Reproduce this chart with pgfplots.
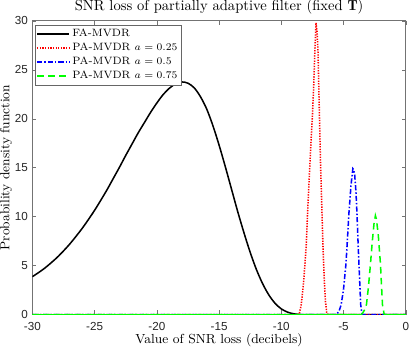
\documentclass[border=0pt]{standalone}
\usepackage{fontspec}
\usepackage{pgfplots}
\pgfplotsset{compat=1.18}
\newfontfamily\ticksans{Liberation Sans}

\begin{document}
\begin{tikzpicture}
\begin{axis}[
  scale only axis,
  width=256pt, height=201.5pt,
  xmin=-30, xmax=0, ymin=0, ymax=30,
  xtick={-30,-25,...,0}, ytick={0,5,...,30},
  title={SNR loss of partially adaptive filter (fixed $\mathbf{T}$)},
  title style={font=\fontsize{10}{12}\selectfont, at={(axis description cs:0.5,1.0035)}, anchor=base, yshift=0pt, inner sep=0pt},
  xlabel={Value of SNR loss (decibels)},
  ylabel={Probability density function},
  label style={font=\fontsize{9}{11}\selectfont, inner sep=0pt},
  xlabel style={at={(axis description cs:0.5,-0.099)}, anchor=base},
  ylabel style={at={(axis description cs:-0.062,0.5)}, anchor=base},
  /pgf/number format/assume math mode=true,
  ticklabel style={font=\ticksans\fontsize{8}{9.5}\selectfont, text=black!85},
  xticklabel style={inner xsep=0pt, yshift=-2pt},
  yticklabel style={xshift=0.5pt},
  axis line style={black!55, line width=0.5pt},
  tick style={black!55},
  major tick length=2.8pt,
  legend cell align=left,
  legend style={at={(0.006,0.985)}, anchor=north west, draw=black!60,
    font=\fontsize{7.3}{8.5}\selectfont, row sep=-0.3pt, inner sep=1pt,
    nodes={inner sep=1.6pt}},
  legend image code/.code={\draw[#1] (0pt,0pt) -- (22pt,0pt);},
]
\addplot[black, line width=1.05pt, smooth] coordinates {
(-30,3.87) (-29.5,4.29) (-29,4.75) (-28.5,5.28) (-28,5.85) (-27.5,6.5)
(-27,7.2) (-26.5,7.98) (-26,8.8) (-25.5,9.7) (-25,10.65) (-24.5,11.68)
(-24,12.75) (-23.5,13.9) (-23,15.05) (-22.5,16.25) (-22,17.4) (-21.5,18.55)
(-21,19.6) (-20.5,20.65) (-20,21.6) (-19.5,22.45) (-19,23.1) (-18.5,23.55)
(-18,23.75) (-17.5,23.62) (-17,23.15) (-16.5,22.25) (-16,21.0) (-15.5,19.3)
(-15,17.3) (-14.5,15.1) (-14,12.8) (-13.5,10.5) (-13,8.35) (-12.5,6.35)
(-12,4.6) (-11.5,3.15) (-11,2.0) (-10.5,1.15) (-10,0.58) (-9.5,0.25)
(-9,0.08) (-8.5,0.01) (-8,0) (0,0)
};
\addlegendentry{FA-MVDR}
\addplot[red, line width=1.05pt, dash pattern=on 0.9pt off 0.9pt] coordinates {
(-30,0) (-8.7,0) (-8.56,0.05) (-8.4,1.0) (-8.2,3.4) (-8.0,7.0) (-7.9,10.0)
(-7.8,12.8) (-7.7,15.4) (-7.6,18.0) (-7.5,20.3) (-7.4,23.2) (-7.3,27.0)
(-7.21,29.8) (-7.12,28.8) (-7.05,26.8) (-6.94,20.5) (-6.85,15.5) (-6.73,10.3)
(-6.64,6.5) (-6.54,3.4) (-6.45,1.3) (-6.35,0.2) (-6.25,0) (0,0)
};
\addlegendentry{PA-MVDR $a=0.25$\hspace{4pt}}
\addplot[blue, line width=1.05pt, dash pattern=on 3.5pt off 1.4pt on 1pt off 1.4pt] coordinates {
(-30,0) (-5.7,0) (-5.51,0.1) (-5.35,0.4) (-5.19,1.0) (-5.0,2.6) (-4.81,5.1)
(-4.69,7.6) (-4.57,10.3) (-4.4,13.2) (-4.25,14.9) (-4.19,14.8) (-4.1,14.2)
(-4.0,12.5) (-3.92,10.3) (-3.84,7.6) (-3.76,5.1) (-3.62,1.0) (-3.52,0.1)
(-3.45,0) (0,0)
};
\addlegendentry{PA-MVDR $a=0.5$}
\addplot[green, line width=1.05pt, dash pattern=on 4.5pt off 3pt] coordinates {
(-30,0) (-3.6,0) (-3.49,0.1) (-3.3,0.5) (-3.16,1.0) (-3.0,2.8) (-2.84,5.1)
(-2.7,7.3) (-2.55,9.3) (-2.44,10.1) (-2.35,9.7) (-2.2,8.0) (-2.1,6.3)
(-2.03,5.1) (-1.95,3.0) (-1.87,1.0) (-1.74,0.05) (-1.65,0) (0,0)
};
\addlegendentry{PA-MVDR $a=0.75$}
\addplot[green, line width=1.05pt, forget plot] coordinates {(-30,0) (-3.55,0)};
\addplot[green, line width=1.05pt, forget plot] coordinates {(-1.7,0) (0,0)};
\end{axis}
\end{tikzpicture}
\end{document}
